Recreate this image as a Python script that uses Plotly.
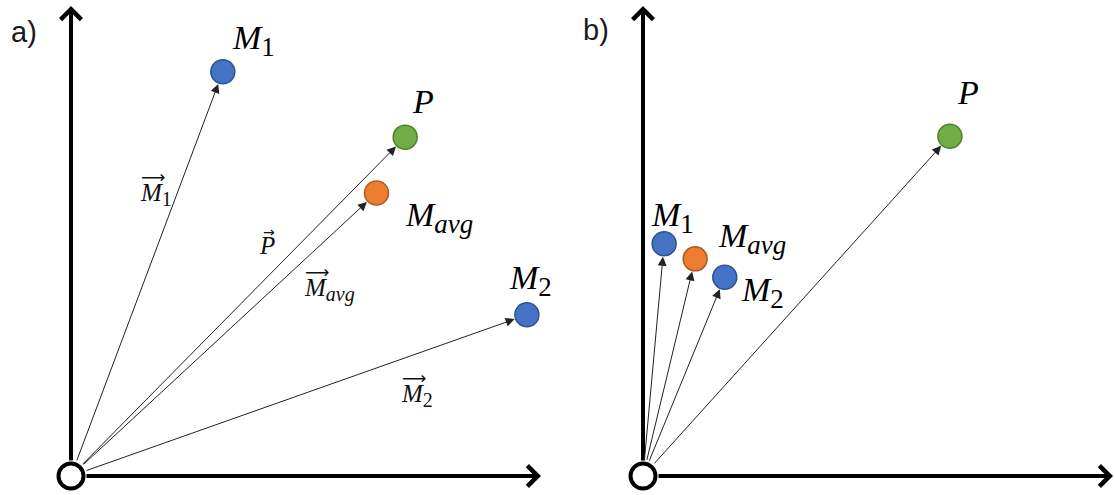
import plotly.graph_objects as go

# ---------------- data ----------------
# panel a) points (x, y in axis units)
A_NAMES = ["M1", "P", "Mavg", "M2"]
A_X = [3.23, 7.11, 6.50, 9.70]
A_Y = [8.60, 7.21, 6.02, 3.43]
A_LABEL_X = [3.89, 7.49, 7.83, 9.77]
A_LABEL_Y = [9.26, 7.96, 5.49, 4.17]

# vector labels in panel a)
VEC_NAMES = ["M1", "P", "Mavg", "M2"]
VEC_X = [1.43, 3.96, 4.92, 6.98]
VEC_Y = [6.04, 4.91, 4.02, 1.77]

# panel b) points
B_NAMES = ["M1", "Mavg", "M2", "P"]
B_X = [0.45, 1.11, 1.74, 6.53]
B_Y = [4.94, 4.62, 4.23, 7.23]
B_LABEL_X = [0.62, 2.32, 2.55, 6.91]
B_LABEL_Y = [5.49, 5.06, 3.91, 8.17]

AXIS_LEN = [10.0, 10.0]  # x, y length of drawn axes
PANEL_TAGS = ["a)", "b)"]

# ---------------- style ----------------
W, H = 1115, 495
PX_PER_UNIT = 47.0
ORIGIN_A_PX = 71
ORIGIN_B_PX = 643
ORIGIN_Y_PX = 476
LABEL_SIZE = 34
VEC_SIZE = 25

FILL = {"M1": "#4472C4", "M2": "#4472C4", "Mavg": "#ED7D31", "P": "#70AD47"}
EDGE = {"M1": "#2F528F", "M2": "#2F528F", "Mavg": "#AE5A21", "P": "#507E32"}
SUBS = {"M1": "1", "M2": "2", "Mavg": "<i>avg</i>", "P": ""}
SERIF = "Liberation Serif"


def html(name, size):
    base = "<i>M</i>" if name != "P" else "<i>P</i>"
    sub = SUBS[name]
    if sub:
        base += "<sub><span style=\"font-size:%dpx\">%s</span></sub>" % (round(size * 0.8), sub)
    return base


fig = go.Figure()

half = W / 2
xa_range = [-ORIGIN_A_PX / PX_PER_UNIT, (half - ORIGIN_A_PX) / PX_PER_UNIT]
xb_range = [-(ORIGIN_B_PX - half) / PX_PER_UNIT, (W - ORIGIN_B_PX) / PX_PER_UNIT]
y_range = [-(H - ORIGIN_Y_PX) / PX_PER_UNIT, ORIGIN_Y_PX / PX_PER_UNIT]

annotations = []


def add_panel(names, xs, ys, lxs, lys, xref):
    # axes (drawn as arrows starting at edge of origin circle)
    annotations.append(dict(x=AXIS_LEN[0], y=0, ax=0, ay=0, xref=xref, yref="y",
                            axref=xref, ayref="y", text="", showarrow=True,
                            arrowhead=4, arrowsize=1, arrowwidth=4, arrowcolor="black",
                            startstandoff=14, standoff=0))
    annotations.append(dict(x=0, y=AXIS_LEN[1], ax=0, ay=0, xref=xref, yref="y",
                            axref=xref, ayref="y", text="", showarrow=True,
                            arrowhead=4, arrowsize=1, arrowwidth=4, arrowcolor="black",
                            startstandoff=14, standoff=0))
    # vectors
    for n, x, y in zip(names, xs, ys):
        annotations.append(dict(x=x, y=y, ax=0, ay=0, xref=xref, yref="y",
                                axref=xref, ayref="y", text="", showarrow=True,
                                arrowhead=2, arrowsize=1.8, arrowwidth=1, arrowcolor="#222",
                                startstandoff=15, standoff=13))
    # points
    fig.add_trace(go.Scatter(
        x=xs, y=ys, mode="markers", xaxis=xref, yaxis="y",
        marker=dict(size=24, color=[FILL[n] for n in names],
                    line=dict(color=[EDGE[n] for n in names], width=1.5)),
        showlegend=False, hoverinfo="skip"))
    # origin circle
    fig.add_trace(go.Scatter(
        x=[0], y=[0], mode="markers", xaxis=xref, yaxis="y",
        marker=dict(size=25, color="white", line=dict(color="black", width=4)),
        showlegend=False, hoverinfo="skip"))
    # labels
    for n, lx, ly in zip(names, lxs, lys):
        annotations.append(dict(x=lx, y=ly, xref=xref, yref="y", text=html(n, LABEL_SIZE),
                                showarrow=False, xanchor="center", yanchor="middle",
                                font=dict(family=SERIF, size=LABEL_SIZE, color="black")))


add_panel(A_NAMES, A_X, A_Y, A_LABEL_X, A_LABEL_Y, "x")
add_panel(B_NAMES, B_X, B_Y, B_LABEL_X, B_LABEL_Y, "x2")

# vector labels in panel a (letter + arrow above it)
for n, vx, vy in zip(VEC_NAMES, VEC_X, VEC_Y):
    annotations.append(dict(x=vx, y=vy, xref="x", yref="y", text=html(n, VEC_SIZE),
                            showarrow=False, xanchor="left", yanchor="top",
                            yshift=15,
                            font=dict(family=SERIF, size=VEC_SIZE, color="#111")))
    annotations.append(dict(x=vx, y=vy, xref="x", yref="y",
                            text="\u2192" if n == "P" else "\u27f6",
                            showarrow=False, xanchor="left", yanchor="bottom",
                            xshift=(4 if n == "P" else 1), yshift=3,
                            font=dict(family="DejaVu Sans", size=(14 if n == "P" else 17),
                                      color="#111")))

# panel tags
for tag, px, py in zip(PANEL_TAGS, [24, 596], [32, 30]):
    annotations.append(dict(x=px / W, y=1 - py / H, xref="paper", yref="paper",
                            text=tag, showarrow=False, xanchor="center", yanchor="middle",
                            font=dict(family="Liberation Sans", size=29, color="#1a1a1a")))

ax_style = dict(visible=False, showgrid=False, zeroline=False, fixedrange=True)
fig.update_layout(
    width=W, height=H, margin=dict(l=0, r=0, t=0, b=0),
    paper_bgcolor="white", plot_bgcolor="white",
    xaxis=dict(domain=[0, 0.5], range=xa_range, anchor="y", **ax_style),
    xaxis2=dict(domain=[0.5, 1], range=xb_range, anchor="y", **ax_style),
    yaxis=dict(domain=[0, 1], range=y_range, anchor="x", **ax_style),
    annotations=annotations,
    showlegend=False,
)

fig.write_html("out.html")
